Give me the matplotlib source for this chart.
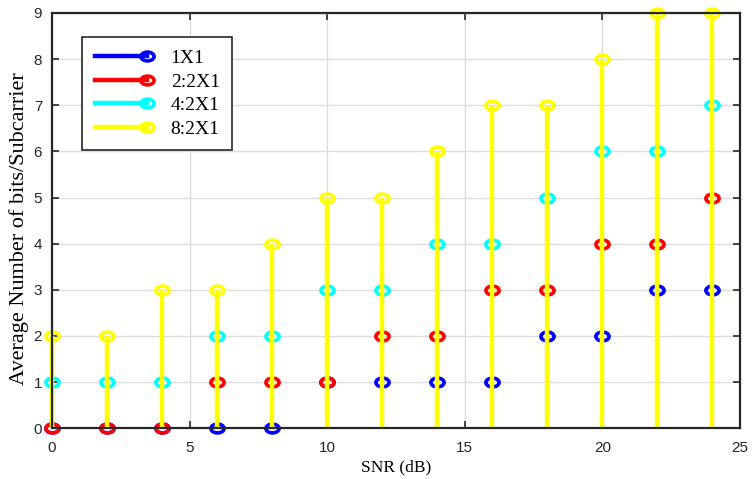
import matplotlib
matplotlib.use('Agg')
import matplotlib.pyplot as plt
from matplotlib.lines import Line2D
from matplotlib.path import Path
from matplotlib.transforms import Affine2D
from matplotlib.legend_handler import HandlerLine2D

# Данные (SNR и среднее число бит на поднесущую)
snr = [0, 2, 4, 6, 8, 10, 12, 14, 16, 18, 20, 22, 24]
bits_1x1 = [0, 0, 0, 0, 0, 1, 1, 1, 1, 2, 2, 3, 3]
bits_2_2x1 = [0, 0, 0, 1, 1, 1, 2, 2, 3, 3, 4, 4, 5]
bits_4_2x1 = [1, 1, 1, 2, 2, 3, 3, 4, 4, 5, 6, 6, 7]
bits_8_2x1 = [2, 2, 3, 3, 4, 5, 5, 6, 7, 7, 8, 9, 9]

labels = ['1X1', '2:2X1', '4:2X1', '8:2X1']
colors = ['#0000ff', '#ff0000', '#00ffff', '#ffff00']
series = [bits_1x1, bits_2_2x1, bits_4_2x1, bits_8_2x1]

serif = 'Liberation Serif'
plt.rcParams['font.family'] = 'Liberation Sans'

# маркер-эллипс (в оригинале кружки растянуты по горизонтали)
ellipse = Path.unit_circle().transformed(Affine2D().scale(1.5, 1.0))
mstyle = dict(marker=ellipse, markersize=9.5, markerfacecolor='none',
              markeredgewidth=2.6)


# маркер в конце линии в легенде, как в MATLAB
class EndMarkerHandler(HandlerLine2D):
    def create_artists(self, legend, orig_handle, xdescent, ydescent,
                       width, height, fontsize, trans):
        y = (height - ydescent) / 2
        line = Line2D([-xdescent, -xdescent + width], [y, y])
        self.update_prop(line, orig_handle, legend)
        line.set_markevery([1])
        line.set_transform(trans)
        return [line]


fig = plt.figure(figsize=(7.52, 4.79), dpi=100)
ax = fig.add_axes([0.069, 0.106, 0.915, 0.867])

for i, (y, c) in enumerate(zip(series, colors)):
    markerline, stemlines, baseline = ax.stem(snr, y)
    plt.setp(stemlines, color=c, linewidth=3.2 if i == 3 else 2.2)
    plt.setp(markerline, color=c, clip_on=False, **mstyle)
    stemlines.set_clip_on(False)
    baseline.set_visible(False)

ax.set_xlim(0, 25)
ax.set_ylim(0, 9)
ax.set_xticks([0, 5, 10, 15, 20, 25])
ax.set_yticks(range(10))
ax.tick_params(direction='in', top=True, right=True, labelsize=11,
               length=5, width=1.2, colors='#262626')
ax.tick_params(axis='x', pad=9)
ax.tick_params(axis='y', pad=7)
ax.grid(True, color='#dcdcdc', linewidth=1)
ax.set_axisbelow(True)
for s in ax.spines.values():
    s.set_linewidth(1.6)
    s.set_color('#262626')

ax.set_xlabel('SNR (dB)', family=serif, fontsize=12.5, labelpad=3)
ax.set_ylabel('Average Number of bits/Subcarrier', family=serif, fontsize=16)
ax.yaxis.set_label_coords(-0.033, 0.48)

handles = [Line2D([], [], color=c, linewidth=3.2, **mstyle) for c in colors]
leg = ax.legend(handles, labels, loc='upper left', bbox_to_anchor=(0.044, 0.942),
                borderaxespad=0, handler_map={Line2D: EndMarkerHandler()},
                prop={'family': serif, 'size': 14}, fancybox=False,
                edgecolor='#262626', framealpha=1, handlelength=2.7,
                labelspacing=0.3, borderpad=0.65, handletextpad=1.2)
leg.get_frame().set_linewidth(1.2)

plt.savefig('out.png')
